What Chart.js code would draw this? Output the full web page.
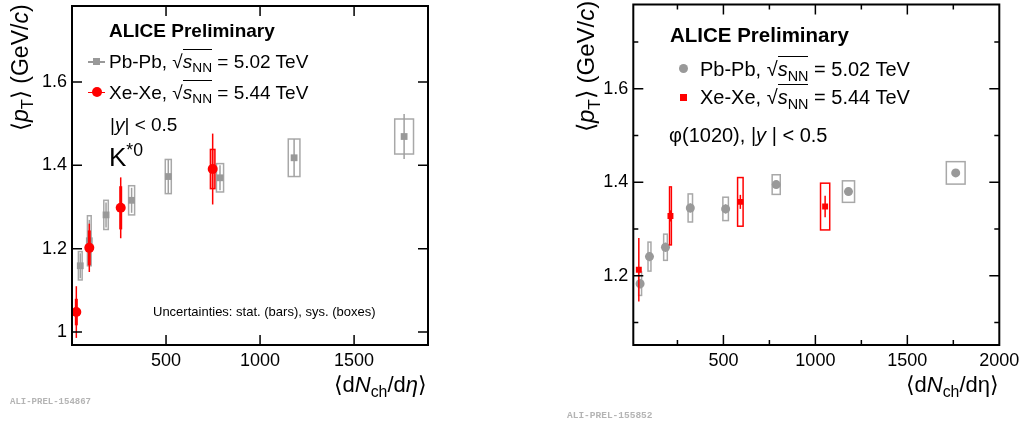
<!DOCTYPE html>
<html>
<head>
<meta charset="utf-8">
<script src="https://cdn.jsdelivr.net/npm/chart.js@4.4.1/dist/chart.umd.min.js"></script>
<style>
  html, body { margin: 0; padding: 0; background: #fff; }
  #page { position: relative; width: 1021px; height: 423px; overflow: hidden;
          font-family: "Liberation Sans", Arial, Helvetica, sans-serif; color: #000; }
  canvas { position: absolute; top: 0; }
  .t { position: absolute; line-height: 1; white-space: nowrap; }
  .t sub { font-size: 0.72em; vertical-align: -0.32em; line-height: 0; }
  .t sup { font-size: 0.68em; vertical-align: 0.55em; line-height: 0; }
  .ov { border-top: 1.3px solid #000; padding-top: 1px; }
  .ali { position: absolute; font-family: "Liberation Mono", "DejaVu Sans Mono", monospace;
         font-weight: bold; color: #b4b4b4; line-height: 1; white-space: nowrap; }
  .mk { position: absolute; }
</style>
</head>
<body>
<div id="page">
  <canvas id="kstar" width="460" height="423" style="left:0px"></canvas>
  <canvas id="phi" width="461" height="423" style="left:560px"></canvas>

  <!-- left panel texts -->
  <div class="t" style="left:109px; top:21px; font-size:19px; font-weight:bold">ALICE Preliminary</div>
  <div class="mk" style="left:88px; top:61px; width:17px; height:1.5px; background:#999"></div>
  <div class="mk" style="left:93px; top:58px; width:7px; height:7px; background:#999"></div>
  <div class="t" style="left:109px; top:52.4px; font-size:19px">Pb-Pb, √<span class="ov"><i>s</i><sub>NN</sub></span> = 5.02 TeV</div>
  <div class="mk" style="left:88px; top:91.5px; width:17px; height:1.5px; background:#f00"></div>
  <div class="mk" style="left:91.7px; top:87.3px; width:10px; height:10px; border-radius:50%; background:#f00"></div>
  <div class="t" style="left:109px; top:83px; font-size:19px">Xe-Xe, √<span class="ov"><i>s</i><sub>NN</sub></span> = 5.44 TeV</div>
  <div class="t" style="left:110px; top:114.7px; font-size:19px">|<i>y</i>| &lt; 0.5</div>
  <div class="t" style="left:109px; top:144.3px; font-size:26px">K<sup>*0</sup></div>
  <div class="t" style="left:153px; top:304.6px; font-size:13px">Uncertainties: stat. (bars), sys. (boxes)</div>
  <div class="t" style="right:594px; top:374.4px; font-size:22px">⟨d<i>N</i><sub>ch</sub>/d<i>η</i>⟩</div>
  <div class="t" style="left:9px; top:131px; font-size:23px; transform-origin:0 0; transform:rotate(-90deg)">⟨<i>p</i><sub>T</sub>⟩ (GeV/<i>c</i>)</div>
  <div class="ali" style="left:10px; top:397.5px; font-size:9px">ALI-PREL-154867</div>

  <!-- right panel texts -->
  <div class="t" style="left:670px; top:25px; font-size:20.5px; font-weight:bold">ALICE Preliminary</div>
  <div class="mk" style="left:678.5px; top:64px; width:9px; height:9px; border-radius:50%; background:#999"></div>
  <div class="t" style="left:700px; top:58.5px; font-size:20px">Pb-Pb, √<span class="ov"><i>s</i><sub>NN</sub></span> = 5.02 TeV</div>
  <div class="mk" style="left:679.5px; top:94.2px; width:7px; height:7px; background:#f00"></div>
  <div class="t" style="left:700px; top:87.2px; font-size:20px">Xe-Xe, √<span class="ov"><i>s</i><sub>NN</sub></span> = 5.44 TeV</div>
  <div class="t" style="left:669px; top:125.2px; font-size:20px">φ(1020), |<i>y</i> | &lt; 0.5</div>
  <div class="t" style="right:22px; top:374.4px; font-size:22px">⟨d<i>N</i><sub>ch</sub>/dη⟩</div>
  <div class="t" style="left:573.5px; top:132px; font-size:24px; transform-origin:0 0; transform:rotate(-90deg)">⟨<i>p</i><sub>T</sub>⟩ (GeV/<i>c</i>)</div>
  <div class="ali" style="left:567px; top:411px; font-size:9.5px">ALI-PREL-155852</div>
</div>

<script>
// K*0, Pb-Pb 5.02 TeV
const kPbX    = [44, 92, 181, 317, 512, 787, 1181, 1766];
const kPbY    = [1.159, 1.219, 1.281, 1.316, 1.373, 1.370, 1.418, 1.469];
const kPbStat = [0.030, 0.050, 0.030, 0.030, 0.040, 0.030, 0.045, 0.054];
const kPbSys  = [0.034, 0.060, 0.035, 0.035, 0.041, 0.034, 0.045, 0.042];
const kPbSysW = [10, 10, 12, 16, 16, 19, 31, 50];

// K*0, Xe-Xe 5.44 TeV
const kXeX    = [23, 92, 259, 748];
const kXeY    = [1.048, 1.202, 1.298, 1.391];
const kXeStat = [0.062, 0.058, 0.073, 0.085];
const kXeSys  = [0.030, 0.040, 0.050, 0.047];
const kXeSysW = [4, 4, 4, 12];

// phi(1020), Pb-Pb 5.02 TeV
const phiPbX    = [47, 98, 185, 320, 512, 787, 1180, 1763];
const phiPbY    = [1.183, 1.241, 1.261, 1.345, 1.343, 1.395, 1.380, 1.420];
const phiPbStat = [0.010, 0.010, 0.010, 0.010, 0.010, 0.008, 0.008, 0.008];
const phiPbSys  = [0.025, 0.031, 0.028, 0.030, 0.025, 0.021, 0.023, 0.024];
const phiPbSysW = [8, 8, 10, 12, 15, 22, 33, 51];

// phi(1020), Xe-Xe 5.44 TeV
const phiXeX    = [40, 212, 592, 1053];
const phiXeY    = [1.213, 1.328, 1.358, 1.348];
const phiXeStat = [0.068, 0.012, 0.015, 0.023];
const phiXeSys  = [0, 0.062, 0.052, 0.050];
const phiXeSysW = [0, 5, 15, 25];

// tick positions and labelled ticks
const kXTicks    = [500, 1000, 1500];
const kYTicks    = [1, 1.2, 1.4, 1.6];
const kXLabels   = [500, 1000, 1500];
const kYLabels   = [1, 1.2, 1.4, 1.6];
const phiXTicks  = [250, 500, 750, 1000, 1250, 1500, 1750, 2000];
const phiYTicks  = [1.1, 1.2, 1.3, 1.4, 1.5, 1.6, 1.7];
const phiXLabels = [500, 1000, 1500, 2000];
const phiYLabels = [1.2, 1.4, 1.6];

const FONT = '"Liberation Sans", Arial, Helvetica, sans-serif';

function pts(xs, ys) {
    return xs.map((x, i) => ({ x: x, y: ys[i] }));
}

function hasLabel(list, v) {
    return list.some((l) => Math.abs(l - v) < 1e-6);
}

function fmt(v) {
    if (Math.abs(v - Math.round(v)) < 1e-6) return String(Math.round(v));
    return v.toFixed(1);
}

function noPad(s) {
    s.paddingTop = 0;
    s.paddingBottom = 0;
    s.paddingLeft = 0;
    s.paddingRight = 0;
}

// error bars + boxes drawn through the chart scales, frame, inward ticks, x labels
function makePlugin(cfg) {
    const errs = cfg.errs;
    return {
        id: 'alice',
        beforeDatasetDraw(chart, args) {
            const e = errs[args.index];
            if (!e) return;
            const { ctx, scales: { x, y } } = chart;
            const data = chart.data.datasets[args.index].data;
            ctx.save();
            data.forEach((p, i) => {
                const px = x.getPixelForValue(p.x);
                if (e.sys[i]) {
                    const x0 = x.getPixelForValue(p.x - e.sysW[i]);
                    const x1 = x.getPixelForValue(p.x + e.sysW[i]);
                    const y0 = y.getPixelForValue(p.y + e.sys[i]);
                    const y1 = y.getPixelForValue(p.y - e.sys[i]);
                    if (e.fill) {
                        ctx.fillStyle = e.fill;
                        ctx.fillRect(x0, y0, x1 - x0, y1 - y0);
                    }
                    ctx.strokeStyle = e.box;
                    ctx.lineWidth = 1.5;
                    ctx.strokeRect(x0, y0, x1 - x0, y1 - y0);
                }
                ctx.strokeStyle = e.line;
                ctx.lineWidth = 1.5;
                ctx.beginPath();
                ctx.moveTo(px, y.getPixelForValue(p.y - e.stat[i]));
                ctx.lineTo(px, y.getPixelForValue(p.y + e.stat[i]));
                ctx.stroke();
            });
            ctx.restore();
        },
        afterDraw(chart) {
            const { ctx, chartArea: a, scales: { x, y } } = chart;
            ctx.save();
            ctx.strokeStyle = '#000';
            ctx.lineWidth = 1.5;
            ctx.beginPath();
            x.ticks.forEach((t) => {
                const p = x.getPixelForValue(t.value);
                if (p <= a.left + 1 || p >= a.right - 1) return;
                const len = cfg.xMajor(t.value) ? 10 : 5;
                ctx.moveTo(p, a.bottom); ctx.lineTo(p, a.bottom - len);
                ctx.moveTo(p, a.top); ctx.lineTo(p, a.top + len);
            });
            y.ticks.forEach((t) => {
                const p = y.getPixelForValue(t.value);
                const len = cfg.yMajor(t.value) ? 10 : 5;
                ctx.moveTo(a.left, p); ctx.lineTo(a.left + len, p);
                ctx.moveTo(a.right, p); ctx.lineTo(a.right - len, p);
            });
            ctx.stroke();
            ctx.lineWidth = 2;
            ctx.strokeRect(a.left, a.top, a.right - a.left, a.bottom - a.top);

            ctx.fillStyle = '#000';
            ctx.font = '18px ' + FONT;
            ctx.textAlign = 'center';
            ctx.textBaseline = 'middle';
            x.ticks.forEach((t) => {
                if (!hasLabel(cfg.xLabels, t.value)) return;
                ctx.fillText(fmt(t.value), x.getPixelForValue(t.value), a.bottom + 16);
            });
            ctx.restore();
        }
    };
}

function makeChart(id, cfg) {
    const ctx = document.getElementById(id);
    return new Chart(ctx, {
        type: 'scatter',
        data: { datasets: cfg.datasets },
        plugins: [makePlugin(cfg)],
        options: {
            responsive: false,
            animation: false,
            devicePixelRatio: 1,
            layout: { padding: cfg.padding },
            plugins: { legend: { display: false }, tooltip: { enabled: false } },
            scales: {
                x: {
                    type: 'linear',
                    min: cfg.xMin,
                    max: cfg.xMax,
                    grid: { display: false, drawTicks: false },
                    border: { display: false },
                    ticks: { display: false, autoSkip: false },
                    afterBuildTicks: (s) => { s.ticks = cfg.xTicks.map((v) => ({ value: v })); },
                    afterFit: (s) => { s.height = 78; noPad(s); }
                },
                y: {
                    type: 'linear',
                    min: cfg.yMin,
                    max: cfg.yMax,
                    grid: { display: false, drawTicks: false },
                    border: { display: false },
                    ticks: {
                        autoSkip: false,
                        padding: 5,
                        color: '#000',
                        font: { family: FONT, size: 18 },
                        callback: (v) => hasLabel(cfg.yLabels, v) ? fmt(v) : ''
                    },
                    afterBuildTicks: (s) => { s.ticks = cfg.yTicks.map((v) => ({ value: v })); },
                    afterFit: (s) => { s.width = cfg.yWidth; noPad(s); }
                }
            }
        }
    });
}

window.onload = function () {
    makeChart('kstar', {
        datasets: [
            { data: pts(kXeX, kXeY), pointStyle: 'circle', pointRadius: 5, backgroundColor: '#ff0000', borderWidth: 0 },
            { data: pts(kPbX, kPbY), pointStyle: 'rect', pointRadius: 4.8, backgroundColor: '#999999', borderWidth: 0 }
        ],
        errs: [
            { stat: kXeStat, sys: kXeSys, sysW: kXeSysW, line: '#ff0000', box: '#ff0000', fill: 'rgba(255,0,0,0.35)' },
            { stat: kPbStat, sys: kPbSys, sysW: kPbSysW, line: '#a0a0a0', box: '#a8a8a8', fill: null }
        ],
        padding: { top: 6, right: 32, left: 0, bottom: 0 },
        yWidth: 72,
        xMin: 0, xMax: 1893, xTicks: kXTicks, xLabels: kXLabels,
        yMin: 0.969, yMax: 1.782, yTicks: kYTicks, yLabels: kYLabels,
        xMajor: () => true,
        yMajor: () => true
    });

    makeChart('phi', {
        datasets: [
            { data: pts(phiXeX, phiXeY), pointStyle: 'rect', pointRadius: 4.2, backgroundColor: '#ff0000', borderWidth: 0 },
            { data: pts(phiPbX, phiPbY), pointStyle: 'circle', pointRadius: 4.5, backgroundColor: '#999999', borderWidth: 0 }
        ],
        errs: [
            { stat: phiXeStat, sys: phiXeSys, sysW: phiXeSysW, line: '#ff0000', box: '#ff0000', fill: null },
            { stat: phiPbStat, sys: phiPbSys, sysW: phiPbSysW, line: '#a0a0a0', box: '#a8a8a8', fill: null }
        ],
        padding: { top: 3, right: 21.7, left: 0, bottom: 0 },
        yWidth: 73.3,
        xMin: 10, xMax: 2000, xTicks: phiXTicks, xLabels: phiXLabels,
        yMin: 1.052, yMax: 1.78, yTicks: phiYTicks, yLabels: phiYLabels,
        xMajor: (v) => Math.round(v) % 500 === 0,
        yMajor: (v) => Math.round(v * 10) % 2 === 0
    });
};
</script>
</body>
</html>
